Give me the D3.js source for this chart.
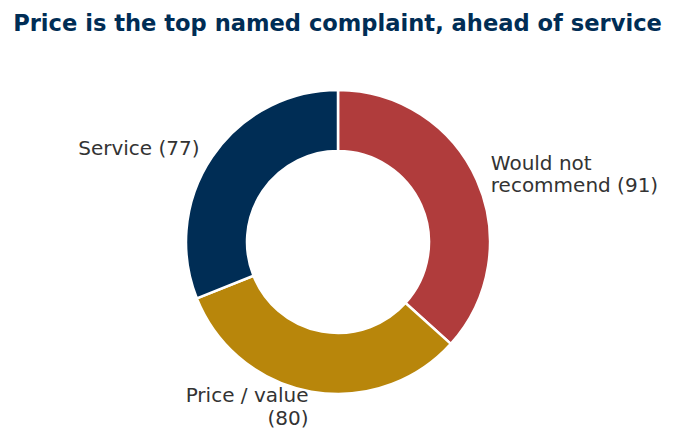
<!DOCTYPE html>
<html>
<head>
<meta charset="utf-8">
<script src="https://cdn.jsdelivr.net/npm/d3@7"></script>
<style>
  body { margin: 0; background: #fff; }
  text { font-family: "DejaVu Sans", sans-serif; }
</style>
</head>
<body>
<div id="chart"></div>
<script>
// complaint categories, clockwise from 12 o'clock
var categories = ["Would not recommend", "Price / value", "Service"];
var labels = [["Would not", "recommend (91)"], ["Price / value", "(80)"], ["Service (77)"]];
var counts = [91, 80, 77];
var colors = ["#b03c3c", "#b8860b", "#002d55"];

var width = 675, height = 446;
var cx = 338, cy = 242, outerR = 152, innerR = 91;

var svg = d3.select("#chart").append("svg")
    .attr("width", width)
    .attr("height", height);

svg.append("text")
    .attr("x", 337.5)
    .attr("y", 31)
    .attr("text-anchor", "middle")
    .attr("font-size", 22.6)
    .attr("font-weight", "bold")
    .attr("fill", "#002d55")
    .text("Price is the top named complaint, ahead of service");

var pie = d3.pie().sort(null).value(function (d) { return d; });
var arcs = pie(counts);
var arc = d3.arc().innerRadius(innerR).outerRadius(outerR);

var g = svg.append("g").attr("transform", "translate(" + cx + "," + cy + ")");

g.selectAll("path")
    .data(arcs)
    .enter().append("path")
    .attr("d", arc)
    .attr("fill", function (d, i) { return colors[i]; })
    .attr("stroke", "#fff")
    .attr("stroke-width", 2.5);

var lineH = 22.5;
g.selectAll(".lbl")
    .data(arcs)
    .enter().append("text")
    .attr("class", "lbl")
    .attr("font-size", 20)
    .attr("fill", "#333")
    .each(function (d, i) {
        var mid = (d.startAngle + d.endAngle) / 2;
        var r = outerR * 1.1;
        var x = r * Math.sin(mid), y = -r * Math.cos(mid);
        var t = d3.select(this)
            .attr("text-anchor", x >= 0 ? "start" : "end");
        var lines = labels[i];
        var y0 = y - (lines.length - 1) * lineH / 2;
        lines.forEach(function (s, j) {
            t.append("tspan")
                .attr("x", x)
                .attr("y", y0 + j * lineH)
                .attr("dy", "0.35em")
                .text(s);
        });
    });
</script>
</body>
</html>
